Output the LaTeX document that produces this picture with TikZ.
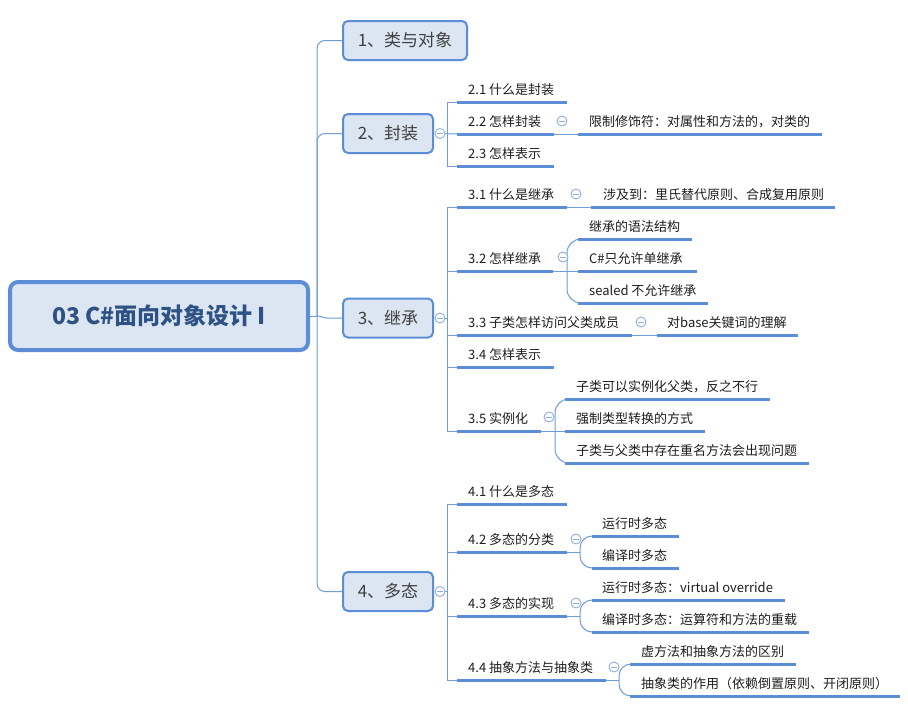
\documentclass[tikz,border=0pt]{standalone}
\usepackage{fontspec}
\setmainfont{Noto Sans CJK SC}
\definecolor{ulblue}{HTML}{5B8ED6}
\definecolor{thinblue}{HTML}{6F9CDA}
\definecolor{nodefill}{HTML}{DCE6F2}
\definecolor{nodedraw}{HTML}{5B8ED6}
\definecolor{roottext}{HTML}{2E5283}
\definecolor{txt}{HTML}{1E1E1E}
\definecolor{circ}{HTML}{8EAEDC}
\tikzset{
  rootbox/.style={draw=nodedraw, fill=nodefill, line width=4pt, rounded corners=8pt,
    minimum width=298pt, minimum height=68pt, inner sep=0pt, text=roottext,
    font=\fontsize{23}{26}\selectfont\bfseries},
  branchbox/.style={draw=nodedraw, fill=nodefill, line width=2pt, rounded corners=5pt,
    minimum height=39pt, inner sep=0pt, text=txt!85,
    font=\fontsize{17}{20}\selectfont},
  subtext/.style={anchor=base west, inner sep=0pt, text=txt, font=\fontsize{13}{15}\selectfont},
  uline/.style={draw=ulblue, line width=3pt},
  conn/.style={draw=thinblue, line width=1pt},
  collapse/.style={circle, draw=circ, fill=white, line width=0.9pt, minimum size=10pt, inner sep=0pt,
    path picture={\draw[circ, line width=0.9pt] ([xshift=-2.6pt]path picture bounding box.center) -- ([xshift=2.6pt]path picture bounding box.center);}},
}
\begin{document}
\begin{tikzpicture}[x=1pt,y=-1pt]
\useasboundingbox (0,0) rectangle (908,705);
\fill[white] (0,0) rectangle (908,705);

% ---------- anchor points ----------
\coordinate (rootR) at (308,316);
\coordinate (tr) at (317,316);
\coordinate (b1L) at (343,40.5);
\coordinate (b2L) at (343,133.5);
\coordinate (b3L) at (343,318);
\coordinate (b4L) at (343,591.5);

% ---------- trunk connectors ----------
\draw[conn] (rootR) -- (tr);
\draw[conn, rounded corners=8pt] (tr) -- (317,40.5) -- (b1L);
\draw[conn, rounded corners=8pt] (tr) -- (317,133.5) -- (b2L);
\draw[conn] (tr) .. controls (322,316) and (322,318) .. (327,318) -- (b3L);
\draw[conn, rounded corners=8pt] (tr) -- (317,591.5) -- (b4L);

% ---------- branch 2 ----------
\coordinate (c2) at (440,133.5);
\coordinate (u21) at (457,102);
\coordinate (u22) at (457,134);
\coordinate (u23) at (457,166);
\draw[conn] (c2) -- (447,133.5) |- (u21);
\draw[conn] (c2) -- (447,133.5) |- (u23);
\draw[conn] (c2) -- (u22);
\draw[uline] (u21) -- (567,102);
\draw[uline] (u22) -- (554,134) coordinate (u22e);
\draw[uline] (u23) -- (554,166);
\node[subtext] (t21) at (468,94) {2.1 什么是封装};
\node[subtext] (t22) at (468,126) {2.2 怎样封装};
\node[subtext] (t23) at (468,158) {2.3 怎样表示};
\coordinate (u221) at (578,134);
\draw[conn] (u22e) -- (u221);
\draw[uline] (u221) -- (822,134);
\node[subtext] (t221) at (589,126) {限制修饰符：对属性和方法的，对类的};
\node[collapse] (k22) at (562,121) {};

% ---------- branch 3 ----------
\coordinate (c3) at (440,318);
\coordinate (u31) at (457,207);
\coordinate (u32) at (457,271);
\coordinate (u33) at (457,335);
\coordinate (u34) at (457,367);
\coordinate (u35) at (457,431);
\draw[conn] (c3) -- (447,318) |- (u31);
\draw[conn] (c3) -- (447,318) |- (u35);
\draw[conn] (447,271) -- (u32);
\draw[conn] (447,335) -- (u33);
\draw[conn] (447,367) -- (u34);
\draw[uline] (u31) -- (567,207) coordinate (u31e);
\draw[uline] (u32) -- (553,271) coordinate (u32e);
\draw[uline] (u33) -- (632,335) coordinate (u33e);
\draw[uline] (u34) -- (554,367);
\draw[uline] (u35) -- (541,431) coordinate (u35e);
\node[subtext] (t31) at (468,199) {3.1 什么是继承};
\node[subtext] (t32) at (468,263) {3.2 怎样继承};
\node[subtext] (t33) at (468,327) {3.3 子类怎样访问父类成员};
\node[subtext] (t34) at (468,359) {3.4 怎样表示};
\node[subtext] (t35) at (468,423) {3.5 实例化};
% 3.1 child
\coordinate (u311) at (591,207);
\draw[conn] (u31e) -- (u311);
\draw[uline] (u311) -- (835,207);
\node[subtext] (t311) at (603,199) {涉及到：里氏替代原则、合成复用原则};
\node[collapse] (k31) at (576,194) {};
% 3.2 children
\coordinate (u321) at (578,239);
\coordinate (u322) at (578,271);
\coordinate (u323) at (578,303);
\draw[conn] (u32e) -- (u322);
\draw[conn, rounded corners=14pt] (567,271) |- (u321);
\draw[conn, rounded corners=14pt] (567,271) |- (u323);
\draw[uline] (u321) -- (692,239);
\draw[uline] (u322) -- (697,271);
\draw[uline] (u323) -- (708,303);
\node[subtext] (t321) at (589,231) {继承的语法结构};
\node[subtext] (t322) at (589,263) {C\#只允许单继承};
\node[subtext] (t323) at (589,295) {sealed 不允许继承};
\node[collapse] (k32) at (563,257) {};
% 3.3 child
\coordinate (u331) at (657,335);
\draw[conn] (u33e) -- (u331);
\draw[uline] (u331) -- (798,335);
\node[subtext] (t331) at (667,327) {对base关键词的理解};
\node[collapse] (k33) at (641,322) {};
% 3.5 children
\coordinate (u351) at (565,399);
\coordinate (u352) at (565,431);
\coordinate (u353) at (565,463);
\draw[conn] (u35e) -- (u352);
\draw[conn, rounded corners=14pt] (555,431) |- (u351);
\draw[conn, rounded corners=14pt] (555,431) |- (u353);
\draw[uline] (u351) -- (770,399);
\draw[uline] (u352) -- (705,431);
\draw[uline] (u353) -- (809,463);
\node[subtext] (t351) at (576,391) {子类可以实例化父类，反之不行};
\node[subtext] (t352) at (576,423) {强制类型转换的方式};
\node[subtext] (t353) at (576,455) {子类与父类中存在重名方法会出现问题};
\node[collapse] (k35) at (549,417) {};

% ---------- branch 4 ----------
\coordinate (c4) at (440,591.5);
\coordinate (u41) at (457,504);
\coordinate (u42) at (457,552);
\coordinate (u43) at (457,616);
\coordinate (u44) at (457,680);
\draw[conn] (c4) -- (447,591.5) |- (u41);
\draw[conn] (c4) -- (447,591.5) |- (u44);
\draw[conn] (447,552) -- (u42);
\draw[conn] (447,616) -- (u43);
\draw[uline] (u41) -- (567,504);
\draw[uline] (u42) -- (567,552) coordinate (u42e);
\draw[uline] (u43) -- (567,616) coordinate (u43e);
\draw[uline] (u44) -- (606,680) coordinate (u44e);
\node[subtext] (t41) at (468,496) {4.1 什么是多态};
\node[subtext] (t42) at (468,544) {4.2 多态的分类};
\node[subtext] (t43) at (468,608) {4.3 多态的实现};
\node[subtext] (t44) at (468,672) {4.4 抽象方法与抽象类};
% 4.2 children
\coordinate (u421) at (592,536);
\coordinate (u422) at (592,568);
\draw[conn] (u42e) -- (580,552);
\draw[conn, rounded corners=12pt] (580,552) |- (u421);
\draw[conn, rounded corners=12pt] (580,552) |- (u422);
\draw[uline] (u421) -- (679,536);
\draw[uline] (u422) -- (679,568);
\node[subtext] (t421) at (602,528) {运行时多态};
\node[subtext] (t422) at (602,560) {编译时多态};
\node[collapse] (k42) at (576,539) {};
% 4.3 children
\coordinate (u431) at (592,600);
\coordinate (u432) at (592,632);
\draw[conn] (u43e) -- (580,616);
\draw[conn, rounded corners=12pt] (580,616) |- (u431);
\draw[conn, rounded corners=12pt] (580,616) |- (u432);
\draw[uline] (u431) -- (785,600);
\draw[uline] (u432) -- (809,632);
\node[subtext] (t431) at (602,592) {运行时多态：virtual override};
\node[subtext] (t432) at (602,624) {编译时多态：运算符和方法的重载};
\node[collapse] (k43) at (576,603) {};
% 4.4 children
\coordinate (u441) at (630,664);
\coordinate (u442) at (630,696);
\draw[conn] (u44e) -- (619,680);
\draw[conn, rounded corners=12pt] (619,680) |- (u441);
\draw[conn, rounded corners=12pt] (619,680) |- (u442);
\draw[uline] (u441) -- (796,664);
\draw[uline] (u442) -- (900,696);
\node[subtext] (t441) at (641,656) {虚方法和抽象方法的区别};
\node[subtext] (t442) at (641,688) {抽象类的作用（依赖倒置原则、开闭原则）};
\node[collapse] (k44) at (614,667) {};

% ---------- main nodes ----------
\node[rootbox] (root) at (159,316) {03 C\#面向对象设计 I};
\node[branchbox, minimum width=124pt] (b1) at (405,40.5) {1、类与对象};
\node[branchbox, minimum width=90pt] (b2) at (388,133.5) {2、封装};
\node[branchbox, minimum width=90pt] (b3) at (388,318) {3、继承};
\node[branchbox, minimum width=90pt] (b4) at (388,591.5) {4、多态};
\node[collapse] (k2) at (c2) {};
\node[collapse] (k3) at (c3) {};
\node[collapse] (k4) at (c4) {};
\end{tikzpicture}
\end{document}
